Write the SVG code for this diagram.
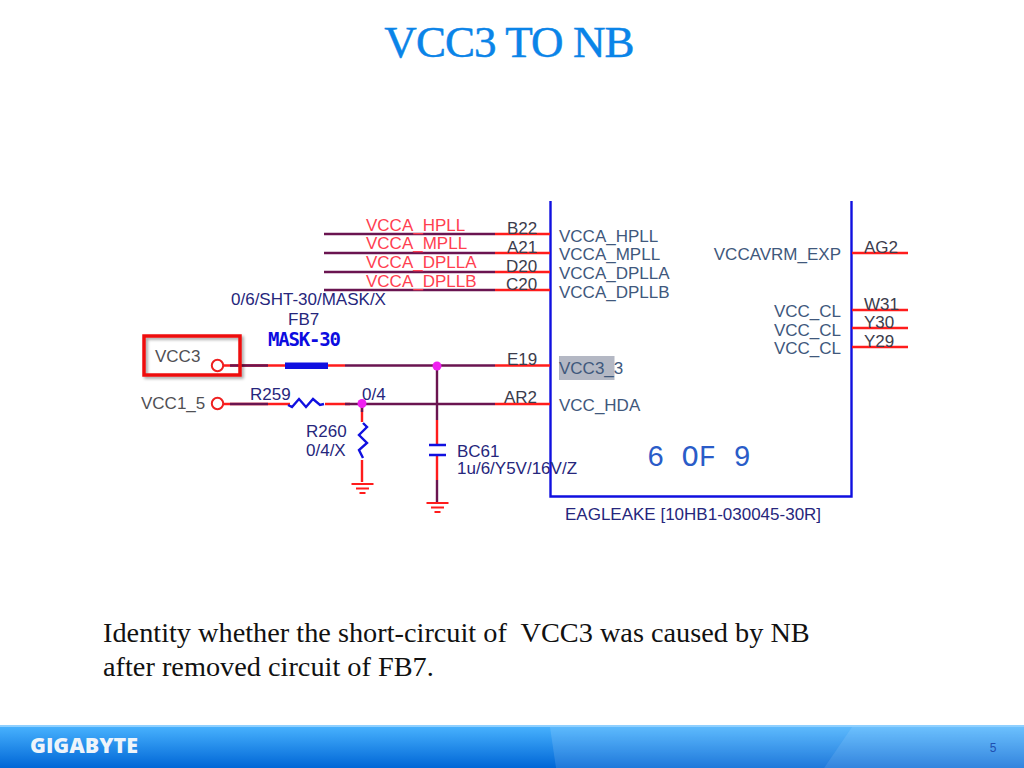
<svg xmlns="http://www.w3.org/2000/svg" width="1024" height="768" viewBox="0 0 1024 768">
<style>
text{font-family:"Liberation Sans",Arial,sans-serif;font-size:17px}
.red{fill:#ff4050}
.pin{fill:#3c3c4c}
.sig{fill:#40587c}
.ref{fill:#26267c}
.net{fill:#505054}
.w{fill:none;stroke:#6a1450;stroke-width:2.4}
.r{fill:none;stroke:#ff1c1c;stroke-width:2.4}
.b{fill:none;stroke:#1010e0;stroke-width:2.4}
.body{font-family:"Liberation Serif",serif;font-size:28.300px;fill:#111;white-space:pre}
</style>
<defs>
<linearGradient id="bar" x1="0" y1="0" x2="0" y2="1"><stop offset="0" stop-color="#4ab4ff"/><stop offset="1" stop-color="#0066d6"/></linearGradient>
<filter id="sh" x="-10%" y="-10%" width="125%" height="130%"><feDropShadow dx="2" dy="2" stdDeviation="1.500" flood-color="#000" flood-opacity=".35"/></filter>
<g id="gnd" class="r"><path d="M-11 0H11M-6.500 4.500H6.500M-3 9H3" stroke-width="1.800"/></g>
</defs>
<rect width="1024" height="768" fill="#fff"/>
<text id="title" x="509" y="57" text-anchor="middle" style="font-family:'Liberation Serif',serif;font-size:45px;fill:#0a84e8;stroke:#0a84e8;stroke-width:.5;letter-spacing:-.9px">VCC3 TO NB</text>

<g id="chip"><path d="M550.500 201V496.500H851.500V201" fill="none" stroke="#1010e0" stroke-width="2.400"/>
<rect x="559" y="356" width="55.500" height="24" fill="#b4b8c4"/>
<text class="sig" x="559" y="242">VCCA_HPLL</text><text class="sig" x="559" y="260">VCCA_MPLL</text><text class="sig" x="559" y="279">VCCA_DPLLA</text><text class="sig" x="559" y="297.500">VCCA_DPLLB</text>
<text class="sig" x="559" y="373.500">VCC3_3</text><text class="sig" x="559" y="410.500">VCC_HDA</text>
<text class="sig" x="841" y="260" text-anchor="end">VCCAVRM_EXP</text><text class="sig" x="841" y="317" text-anchor="end">VCC_CL</text><text class="sig" x="841" y="336" text-anchor="end">VCC_CL</text><text class="sig" x="841" y="354" text-anchor="end">VCC_CL</text>
<text x="647" y="466" style="font-family:'Liberation Mono',monospace;font-size:28.800px;fill:#2a5cc8">6 OF 9</text>
<text class="ref" x="565" y="520">EAGLEAKE [10HB1-030045-30R]</text></g>

<g id="connectors">
<path class="r" d="M495 234H550M495 253H550M495 272H550M495 290H550M495 365.500H550M495 404H550M852 253H908M852 310H908M852 328H908M852 347H908M437 420V445M437 456V480M362 404V422M362 460V482M223 365.500H285M328 365.500H345M223 404H290M325 404H350"/>
<path class="w" d="M324 234H495M324 253H495M324 272H495M324 290H495M345 365.500H495M345 404H495M437 366V420M437 480V502M362 404V412M230 365.500H268M230 404H268"/>
</g>

<g id="vcc3"><rect x="144" y="336" width="96" height="39" fill="none" stroke="#ee1010" stroke-width="3.500" filter="url(#sh)"/><text class="net" x="155" y="362">VCC3</text><circle cx="217.500" cy="365.500" r="5.700" fill="#fff" stroke="#ee2020" stroke-width="2"/></g>
<g id="vcc1_5"><text class="net" x="141" y="409">VCC1_5</text><circle cx="217.500" cy="403.500" r="5.700" fill="#fff" stroke="#ee2020" stroke-width="2"/></g>
<g id="fb7"><rect x="285" y="362.500" width="43" height="6.500" fill="#1010e0"/><text class="ref" x="231" y="305">0/6/SHT-30/MASK/X</text><text class="ref" x="288" y="325">FB7</text><text x="268" y="346" style="font-family:'DejaVu Sans Mono',monospace;font-weight:bold;font-size:19px;fill:#0c0ce0;letter-spacing:-1.200px">MASK-30</text></g>
<g id="r259"><path class="b" d="M288 405L292 407L299 399L306 407L313 399L320 405L324 404"/><text class="ref" x="250" y="399.500">R259</text><text class="ref" x="362" y="400">0/4</text></g>
<g id="r260"><path class="b" d="M363 423L367 427L359 435L367 443L359 450L363 458"/><text class="ref" x="306" y="436.500">R260</text><text class="ref" x="306" y="456">0/4/X</text><use href="#gnd" x="362.500" y="484"/></g>
<g id="bc61"><path class="b" d="M429 445H446M429 455H446" stroke-width="3"/><text class="ref" x="457" y="457">BC61</text><text class="ref" x="457" y="474">1u/6/Y5V/16V/Z</text><use href="#gnd" x="437.500" y="503"/></g>
<g id="junctions"><circle cx="437" cy="366" r="4.500" fill="#f020f0"/><circle cx="362" cy="403.500" r="4.500" fill="#f020f0"/></g>

<g id="pins-left"><text class="red" x="366" y="231">VCCA_HPLL</text><text class="red" x="366" y="249">VCCA_MPLL</text><text class="red" x="366" y="268">VCCA_DPLLA</text><text class="red" x="366" y="287">VCCA_DPLLB</text>
<text class="pin" x="507" y="233.500">B22</text><text class="pin" x="507" y="253">A21</text><text class="pin" x="506" y="271.500">D20</text><text class="pin" x="506" y="290">C20</text><text class="pin" x="507" y="365">E19</text><text class="pin" x="504" y="403">AR2</text></g>
<g id="pins-right"><text class="pin" x="864" y="252.500">AG2</text><text class="pin" x="864" y="309.500">W31</text><text class="pin" x="864" y="327.500">Y30</text><text class="pin" x="864" y="347">Y29</text></g>

<text class="body" x="103" y="642">Identity whether the short-circuit of  VCC3 was caused by NB</text>
<text class="body" x="103" y="676">after removed circuit of FB7.</text>

<g id="footer"><rect y="725" width="1024" height="43" fill="url(#bar)"/><rect y="725" width="1024" height="2" fill="#8fd0ff"/>
<path d="M550 727H852L824 768H556Z" fill="#fff" opacity=".12"/><path d="M852 727H1024V768H824Z" fill="#fff" opacity=".2"/>
<text x="30" y="753" textLength="108" lengthAdjust="spacingAndGlyphs" style="font-weight:800;font-size:21px;fill:#eef4fa;font-family:'Open Sans',sans-serif">GIGABYTE</text>
<text x="993" y="752" text-anchor="middle" style="font-size:12px;fill:#1f4fb0">5</text></g>
</svg>
